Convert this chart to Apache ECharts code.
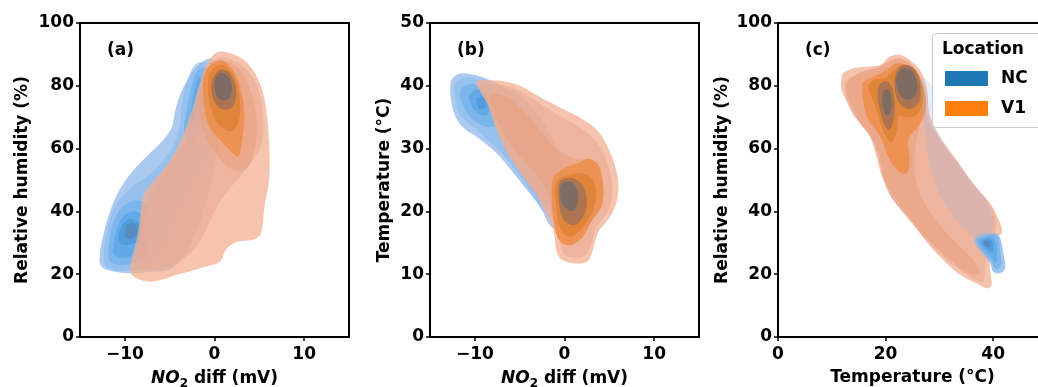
<!DOCTYPE html>
<html>
<head>
<meta charset="utf-8">
<script src="https://cdn.jsdelivr.net/npm/echarts@6/dist/echarts.min.js"></script>
<style>
  html, body { margin: 0; padding: 0; background: #fff; }
  #chart { width: 1038px; height: 387px; }
</style>
</head>
<body>
<div id="chart"></div>
<script>
// ---- Axis ticks ----
const no2Ticks = [-10, 0, 10];
const rhTicks = [0, 20, 40, 60, 80, 100];
const tempTicks = [0, 10, 20, 30, 40, 50];
const tempXTicks = [0, 20, 40];

// ---- Bivariate KDE contour regions ----
// Each array lists density levels from the outermost inwards;
// a level is a list of closed [x, y] outlines.

// (a) NO2 diff (mV) vs relative humidity (%)
const no2RhNC = [
  [[[-0.5,88.7],[-1.8,86.6],[-2.9,82.4],[-3.85,77],[-4.4,71.8],[-4.8,66.5],[-5.9,62.2],[-7.4,58],[-9.2,52.6],[-10.7,46.3],[-11.65,39.9],[-12.4,32.5],[-12.8,26.1],[-12.6,22.4],[-11.1,20.8],[-9.2,20.3],[-7,20.8],[-5,21.5],[-3.3,26],[-2,34],[-1,42],[-0.2,52],[0.5,62],[1,72],[1,80],[0.5,86]]],
  [[[-12.3,23.5],[-12.2,30],[-11.7,37],[-10.8,43],[-9.3,47.5],[-7.2,52],[-5.5,57],[-4.4,62.2],[-3.85,67.5],[-3.6,75],[-3.1,81.3],[-2.2,86.6],[-1.2,87.5],[-0.3,84],[0.2,76],[0,66],[-1.5,55],[-3.5,44],[-5.2,34],[-6.5,26],[-8,22],[-10,21.2],[-11.5,21.5]]],
  [[[-11.8,25],[-11.7,31],[-11.2,37],[-10.2,41.5],[-8.8,43.5],[-7.5,42],[-7,36],[-7.2,29],[-8.2,24.5],[-10,23],[-11.2,23.3]],
   [[-3.4,66],[-3.1,71.8],[-2.55,80.3],[-1.8,85],[-1,85.5],[-0.7,80],[-1,72],[-1.8,64],[-2.8,61]]],
  [[[-11.3,27],[-11,33],[-10.3,38],[-9.2,40],[-8,38.5],[-7.8,33],[-8.4,28],[-9.8,25.2],[-10.8,25.5]],
   [[-2.6,70],[-2.3,78],[-1.7,83],[-1.3,80],[-1.5,73],[-2,68]]],
  [[[-10.6,30],[-10.4,35],[-9.6,37.5],[-8.5,36.5],[-8.3,32],[-9.2,29.5]]],
  [[[-10,32],[-9.8,35.5],[-9,36.2],[-8.6,33.5],[-9.2,31.3]]]
];
const no2RhV1 = [
  [[[0.61,90.9],[2.65,89.3],[4.15,85.6],[5.26,79.2],[5.8,71.8],[6.1,61.1],[6.1,50.5],[5.6,42],[5.4,36.7],[5.1,32.5],[4.15,30.9],[2.65,30.4],[1.36,28.2],[0.6,24],[-1.06,22.4],[-2.9,20.8],[-4.4,19.7],[-5.9,18.2],[-7.2,17.6],[-8.7,18.7],[-9.4,20.8],[-9.2,25],[-8.5,33.5],[-8.1,43.1],[-7.75,46.3],[-5.9,52.6],[-4.4,59],[-3.5,64.3],[-2.55,71.8],[-1.8,79.2],[-1.06,85.6],[-0.3,89.3]]],
  [[[0.5,89],[2.5,87.5],[4.2,83],[5,78],[5.4,70],[5.3,62],[4.2,56],[2.5,50],[0.8,44],[-0.5,37],[-1.5,31],[-3,26],[-5,22.5],[-7,21.3],[-8.6,22.5],[-8.4,30],[-7.8,41],[-6.2,50],[-4.3,57.5],[-3,64.5],[-2,72.5],[-1.3,80],[-0.6,86]]],
  [[[-1.1,84.5],[-1.6,78],[-1.7,72],[-1.3,66],[-0.2,60],[1.2,55],[2.3,53],[3.5,53.5],[4.4,59],[4.7,68],[4.2,77],[3,84.5],[1.2,88],[-0.3,87.5]]],
  [[[-1.25,82.4],[-1.06,71.8],[-0.5,66.5],[0.8,62.2],[1.9,59],[2.65,57.5],[3.1,63],[3.3,71.8],[2.8,80.3],[1.9,85.6],[0.8,88],[-0.5,86.5]]],
  [[[-0.7,82],[-0.5,74],[0.4,68],[1.8,65.5],[2.7,68.5],[2.8,76],[2.2,83],[1,86.5],[-0.2,85.5]]],
  [[[-0.3,81],[-0.1,75.5],[0.9,72.5],[2.1,73.5],[2.4,79],[1.7,84],[0.6,85]]],
  [[[0,80.5],[0.3,76.5],[1.2,75.4],[1.9,77.5],[1.8,82],[1,84],[0.3,83.3]]]
];

// (b) NO2 diff (mV) vs temperature (°C)
const no2TempNC = [
  [[[-12.7,40.5],[-12.2,41.6],[-11.3,42],[-10,41.7],[-8.5,41],[-7,40],[-5,38.5],[-3,35.5],[-1.2,31],[0.2,25],[0.5,20.5],[-0.3,17.6],[-1.2,17.3],[-1.8,18.1],[-2.7,20.7],[-4.2,23.4],[-5.7,26.1],[-7.6,29.3],[-9.8,31.9],[-11,33],[-12,34.6],[-12.6,37.2]]],
  [[[-12.2,40.3],[-11.2,41.3],[-9.8,41],[-8,39.5],[-6,36],[-4,31],[-2.5,26],[-1.7,21],[-2.3,20],[-3.5,22.5],[-5.5,26.5],[-7.5,30],[-9.8,33],[-11.6,35.3],[-12.1,37.5]]],
  [[[-11.4,39.8],[-10,40.3],[-8.5,39],[-7.5,36],[-8,33.5],[-9.6,34],[-11,36],[-11.6,38]]],
  [[[-10.5,38.8],[-9.3,39.3],[-8.4,37.5],[-8.6,35.3],[-9.8,35.8],[-10.6,37.5]]],
  [[[-9.8,38],[-9,38.2],[-8.8,36.6],[-9.5,36.3]]]
];
const no2TempV1 = [
  [[[-9.8,40.7],[-8.5,40.9],[-6.6,40.7],[-4.8,39.9],[-2.5,38],[-0.3,36.4],[1.9,34.8],[3.8,32.7],[4.9,30],[5.6,27.4],[6,24.7],[5.9,22.1],[5.4,20],[4.7,18.4],[3.8,16.8],[3.4,15.2],[3,13.1],[2.5,12],[1.2,11.7],[-0.3,12.3],[-0.9,13.6],[-1.06,15.7],[-1.4,17.8],[-2.4,20.5],[-3.1,22.6],[-4.4,25.3],[-5.7,27.9],[-6.8,30.6],[-7.75,33.8],[-8.5,36.9],[-9.4,39.1]]],
  [[[-9.3,40.2],[-6.6,40],[-4.8,39],[-2.5,37],[-0.3,35],[1.9,33.2],[3.6,31],[4.7,28],[5.3,24.5],[5.2,21.5],[4.6,19.5],[3.6,17.5],[3,15],[2.3,13],[1.2,12.6],[0,13.2],[-0.5,15],[-0.9,17.7],[-2,20.5],[-3.3,23],[-4.8,25.8],[-6.2,28.8],[-7.3,32],[-8.2,35.5],[-8.9,38.5]]],
  [[[-8.2,38.5],[-6.5,38.2],[-4.5,35.8],[-2.5,32.5],[-0.5,29.5],[1.5,28.3],[3.2,28],[4.3,24.5],[4.2,21],[3,18.4],[1.9,15.7],[0.4,14.6],[-0.7,15.7],[-1.3,19],[-1.8,22.5],[-3,25.5],[-4.8,28.5],[-6.3,31.5],[-7.6,35]]],
  [[[-1.25,25.3],[0.06,26.9],[1.5,27.7],[2.65,28.4],[3.8,27.4],[4.3,24.2],[4.15,21],[3,18.4],[1.9,15.7],[0.4,14.6],[-0.7,15.7],[-1.25,18.9],[-1.4,22.1]]],
  [[[-0.9,24.8],[0.5,25.8],[2,26],[3.2,25],[3.5,22],[2.8,19],[1.6,16.8],[0.4,16],[-0.5,17.3],[-0.9,20.5]]],
  [[[-0.5,24.8],[0.8,25.3],[2,24.2],[2.5,21.5],[2,19],[1,17.8],[-0.1,18.7],[-0.6,21.5]]],
  [[[-0.3,24.5],[0.8,24.7],[1.5,23],[1.3,20.5],[0.6,20.1],[-0.3,21.3],[-0.5,23.2]]]
];

// (c) temperature (°C) vs relative humidity (%)
const tempRhNC = [
  [[[26.6,82.5],[28.2,81],[29.3,77],[29.2,73],[28.6,70],[29.6,65.5],[31.5,60],[34,54],[37,47.5],[39.3,41.5],[40,36],[39.2,31.5],[37.5,30.5],[35.2,33.5],[32.5,38.5],[30.3,44.5],[28.8,51],[27.8,59],[27.2,67],[26.7,75]]],
  [[[36.6,31.4],[37.8,32.6],[39.4,33],[41,32.5],[41.9,26.7],[42.2,21.9],[41.3,20.3],[40,20.8],[39.4,23.5],[37.5,27.7],[36.6,29.8]]],
  [[[36.9,30.8],[38.2,32],[39.4,32.6],[40.8,32],[41.3,27.5],[41.4,22.5],[40.5,21.6],[39.7,24],[38,27.5]]],
  [[[37.3,30.5],[38.5,31.6],[39.6,31.8],[40.5,30.5],[40.7,26.5],[40.4,23.8],[39.7,25.5],[38.3,28]]],
  [[[37.8,30.2],[39.1,31.1],[40,30],[39.9,27],[39.2,27.6]]],
  [[[38.2,30],[39.1,30.6],[39.5,29.4],[39.1,28.5]]]
];
const tempRhV1 = [
  [[[12.1,84],[14,85.6],[16.5,86.1],[19,86.6],[20.8,89.3],[22.7,89.8],[24.5,88.2],[26.4,85],[27.6,79.7],[28.3,70.2],[30.1,63.8],[33.2,56.4],[36.3,48.9],[39.4,42.6],[41.3,36.2],[41.6,33],[40.3,31.9],[39.4,26.6],[39.4,21.3],[39.7,16.6],[38.8,15.5],[36.9,17.1],[34.4,19.2],[32,22.4],[28.3,28.8],[25.1,36.2],[22.1,43.6],[19.6,50],[18.3,57.4],[17.1,63.8],[15.2,68.1],[13.4,73.3],[11.8,78.7],[11.8,82.4]]],
  [[[12.8,82],[16,84.5],[20.5,87.5],[23,88.5],[25.5,85],[27,79],[27.8,70],[30,63],[33.5,55],[37,47],[40,40.5],[40.5,34],[39,30],[38.5,22],[38,17.5],[35,20],[31,25],[27,32],[23.5,39],[20.5,46],[19,54],[18,61],[16,66.5],[13.5,72],[12.5,78]]],
  [[[12.8,80.5],[15,84],[19,85.8],[21,88.3],[23,88.7],[25.3,86],[27,80],[27.5,72],[26.3,67],[25.5,60],[25.5,52],[26.5,45],[29,38],[32.5,31],[36,25],[37.5,20.5],[36,20],[32.5,24],[28.5,30],[24.5,37.5],[21.3,44],[19.8,50],[18.8,58],[17.3,64],[15,69],[13.3,75]]],
  [[[15.6,79.7],[16.5,70.2],[19,63.8],[20.5,57.4],[22.1,53.2],[23.9,52.1],[24.5,56.4],[24.2,62.7],[26.4,68],[27.4,72.3],[27.4,77],[26.4,82.9],[24.5,86.1],[22.1,87.2],[20.2,85],[17.7,82.9],[15.9,81.3]]],
  [[[16.8,80],[18,74],[19.5,66],[21,62],[22,65],[22.5,70.5],[23.5,70],[25.5,70.5],[26.8,74],[26.8,80],[25.5,85],[23.5,86.8],[21.5,85],[20,82.5],[18,82]]],
  [[[18.5,78],[19.3,70],[20.5,66],[21.5,69],[21.6,76],[20.7,81],[19.2,81]],
   [[21.7,82],[22,76.5],[23.5,73],[25.5,73.3],[26.5,77],[26.1,83],[24.6,86.3],[22.6,86]]],
  [[[19.4,77],[19.7,72],[20.5,70.5],[21.1,73],[20.9,77.5],[20.1,79]],
   [[21.9,82],[22.4,78],[23.5,75.8],[25.2,76.2],[25.9,79],[25.6,83],[24.5,85.3],[22.9,85.2]]]
];

// ---- Styling ----
const FONT = 'DejaVu Sans';
const NC_COLOR = '#1f77b4';
const V1_COLOR = '#ff7f0e';
// Apparent shade of each density level (light to dark)
const ncShades = [[172,202,240],[150,192,238],[122,181,236],[98,170,232],[82,156,222],[88,140,195]];
const v1Shades = [[246,195,173],[239,180,158],[236,168,138],[238,146,82],[224,132,58],[172,116,82],[128,107,100]];
const OUTER_ALPHA = 0.75, INNER_ALPHA = 0.6;

// Fill colours so that stacked translucent levels show the shades above
function levelFills(shades) {
  let prev = [255, 255, 255];
  return shades.map((t, i) => {
    const a = i === 0 ? OUTER_ALPHA : INNER_ALPHA;
    const c = t.map((v, k) => Math.max(0, Math.min(255, Math.round((v - (1 - a) * prev[k]) / a))));
    prev = t;
    return 'rgb(' + c.join(',') + ')';
  });
}
const ncFills = levelFills(ncShades);
const v1Fills = levelFills(v1Shades);
const defaultAlphas = n => Array.from({ length: n }, (_, i) => i === 0 ? OUTER_ALPHA : INNER_ALPHA);

function contourSeries(name, levels, fills, alphas, gi, z, color) {
  const items = [];
  levels.forEach((polys, li) => polys.forEach(pts => items.push({ li, pts })));
  return {
    type: 'custom',
    name: name,
    xAxisIndex: gi,
    yAxisIndex: gi,
    coordinateSystem: 'cartesian2d',
    clip: true,
    silent: true,
    z: z,
    itemStyle: { color: color },
    data: items.map(it => it.pts[0]),
    renderItem: function (params, api) {
      const it = items[params.dataIndex];
      return {
        type: 'polygon',
        shape: { points: it.pts.map(p => api.coord(p)), smooth: 0.35 },
        style: { fill: fills[it.li], opacity: alphas[it.li], stroke: null }
      };
    }
  };
}

const fmtTick = v => (v < 0 ? '\u2212' + Math.abs(v) : String(v));
const tickLabel = { fontFamily: FONT, fontSize: 17, fontWeight: 'bold', color: '#000' };
const nameStyle = { fontFamily: FONT, fontSize: 17, fontWeight: 'bold', color: '#000' };

function xAxis(gi, min, max, ticks, name, rich, gap) {
  return {
    type: 'value', gridIndex: gi, min: min, max: max,
    name: name, nameLocation: 'middle', nameGap: gap,
    nameTextStyle: Object.assign({}, nameStyle, rich ? { rich: rich } : {}),
    axisLine: { show: true, onZero: false, lineStyle: { color: '#000', width: 2 } },
    axisTick: { show: true, inside: false, length: 4, customValues: ticks, lineStyle: { color: '#000', width: 1.5 } },
    axisLabel: Object.assign({ customValues: ticks, margin: 9, formatter: fmtTick }, tickLabel),
    splitLine: { show: false }
  };
}
function yAxis(gi, min, max, ticks, name, gap) {
  return {
    type: 'value', gridIndex: gi, min: min, max: max,
    name: name, nameLocation: 'middle', nameGap: gap,
    nameTextStyle: nameStyle,
    axisLine: { show: true, onZero: false, lineStyle: { color: '#000', width: 2 } },
    axisTick: { show: true, inside: false, length: 4, customValues: ticks, lineStyle: { color: '#000', width: 1.5 } },
    axisLabel: Object.assign({ customValues: ticks, margin: 6, formatter: fmtTick }, tickLabel),
    splitLine: { show: false }
  };
}

const no2Rich = {
  i: { fontFamily: FONT, fontSize: 17, fontWeight: 'bold', fontStyle: 'italic', color: '#000', lineHeight: 22 },
  s: { fontFamily: FONT, fontSize: 12, fontWeight: 'bold', color: '#000', verticalAlign: 'bottom', lineHeight: 12 },
  n: { fontFamily: FONT, fontSize: 17, fontWeight: 'bold', color: '#000', lineHeight: 22 }
};
const no2Name = '{i|NO}{s|2}{n| diff (mV)}';

const grids = [
  { left: 80, top: 23, width: 269, height: 314 },
  { left: 430, top: 23, width: 269, height: 314 },
  { left: 778, top: 23, width: 269, height: 314 }
].map(g => Object.assign({
  show: true, borderColor: '#000', borderWidth: 2, backgroundColor: 'transparent',
  outerBoundsMode: 'none', containLabel: false
}, g));

const panelLabel = (text, x) => ({
  type: 'text', left: x, top: 42, z: 30,
  style: { text: text, fontFamily: FONT, fontSize: 17, fontWeight: 'bold', fill: '#000' }
});

const option = {
  animation: false,
  backgroundColor: '#fff',
  grid: grids,
  xAxis: [
    xAxis(0, -15, 15, no2Ticks, no2Name, no2Rich, 31),
    xAxis(1, -15, 15, no2Ticks, no2Name, no2Rich, 31),
    xAxis(2, 0, 50, tempXTicks, 'Temperature (°C)', null, 32)
  ],
  yAxis: [
    yAxis(0, 0, 100, rhTicks, 'Relative humidity (%)', 49),
    yAxis(1, 0, 50, tempTicks, 'Temperature (°C)', 37),
    yAxis(2, 0, 100, rhTicks, 'Relative humidity (%)', 47)
  ],
  legend: {
    left: 940, top: 65, orient: 'vertical',
    itemWidth: 43, itemHeight: 15, itemGap: 13,
    icon: 'rect', selectedMode: false, z: 40,
    textStyle: { fontFamily: FONT, fontSize: 17, fontWeight: 'bold', color: '#000', padding: [0, 0, 0, 8] },
    data: [
      { name: 'NC', itemStyle: { color: NC_COLOR } },
      { name: 'V1', itemStyle: { color: V1_COLOR } }
    ]
  },
  graphic: [
    panelLabel('(a)', 107),
    panelLabel('(b)', 457),
    panelLabel('(c)', 805),
    {
      type: 'rect', left: 932, top: 33, z: 35,
      shape: { width: 120, height: 94, r: 4 },
      style: { fill: 'rgba(255,255,255,0.8)', stroke: '#cccccc', lineWidth: 1 }
    },
    {
      type: 'text', left: 942, top: 41, z: 36,
      style: { text: 'Location', fontFamily: FONT, fontSize: 17, fontWeight: 'bold', fill: '#000' }
    }
  ],
  series: [
    contourSeries('NC', no2RhNC, ncFills, defaultAlphas(6), 0, 2, NC_COLOR),
    contourSeries('V1', no2RhV1, v1Fills, defaultAlphas(7), 0, 3, V1_COLOR),
    contourSeries('NC', no2TempNC, ncFills, defaultAlphas(5), 1, 2, NC_COLOR),
    contourSeries('V1', no2TempV1, v1Fills, defaultAlphas(7), 1, 3, V1_COLOR),
    contourSeries('V1', tempRhV1, v1Fills, defaultAlphas(7), 2, 2, V1_COLOR),
    contourSeries('NC', tempRhNC, ncFills, [0.22, 0.8, 0.6, 0.6, 0.6, 0.6], 2, 3, NC_COLOR)
  ]
};

const chart = echarts.init(document.getElementById('chart'), null, { renderer: 'canvas' });
chart.setOption(option);
</script>
</body>
</html>
